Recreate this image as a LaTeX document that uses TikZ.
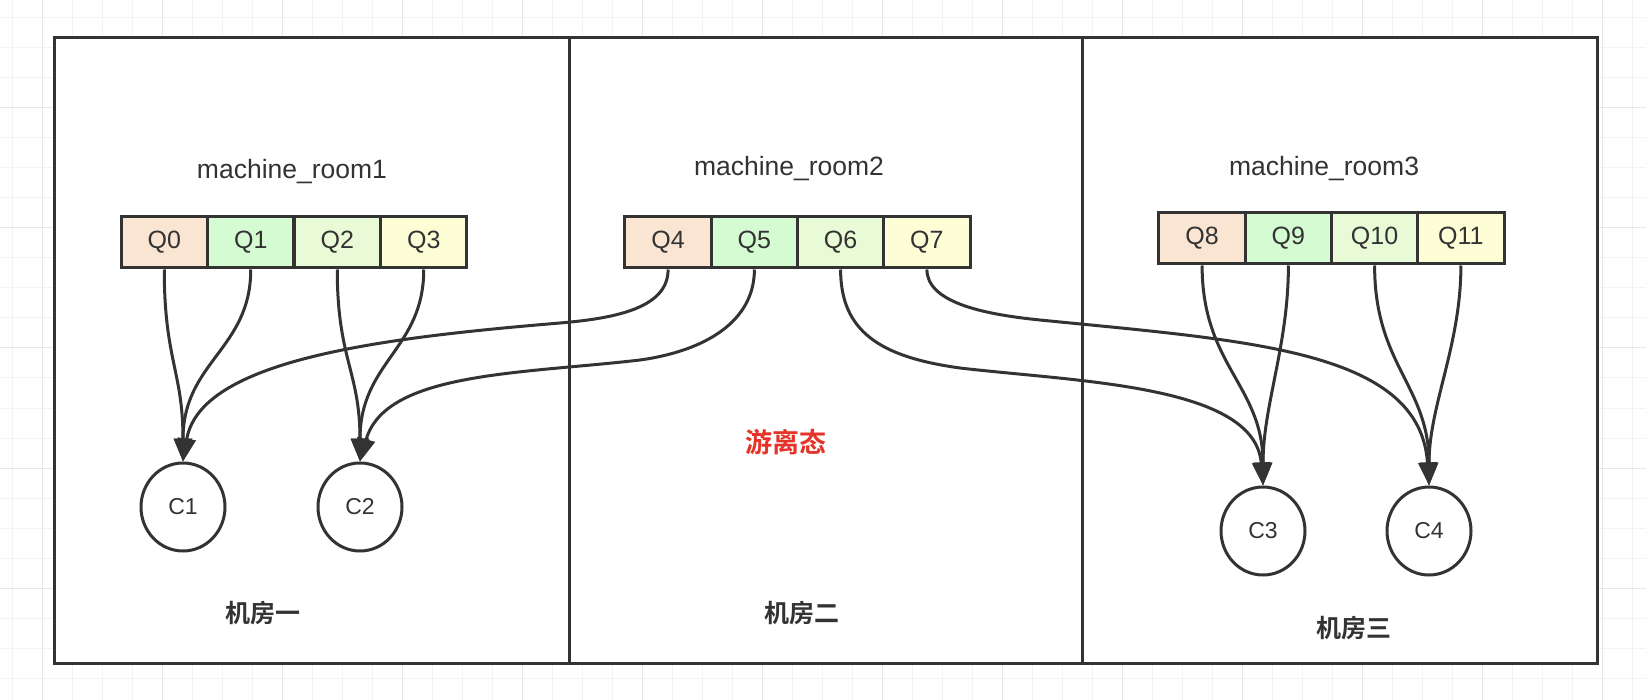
\documentclass[tikz,border=0pt]{standalone}
\usepackage{fontspec}
\setmainfont{Liberation Sans}
\newfontfamily\cjk{Noto Sans CJK SC Bold}
\usetikzlibrary{arrows.meta,shapes.geometric}
\definecolor{ln}{HTML}{333333}
\definecolor{cq0}{HTML}{FAE5D2}
\definecolor{cq1}{HTML}{D5FBD3}
\definecolor{cq2}{HTML}{E9FBD6}
\definecolor{cq3}{HTML}{FEFED6}
\definecolor{rtxt}{HTML}{E53329}
\definecolor{gmin}{HTML}{F3F3F3}
\definecolor{gmaj}{HTML}{E7E7E7}
\tikzset{
  cell/.style={draw=ln, line width=3pt, minimum width=86.3pt, minimum height=51pt, inner sep=0pt, text=ln, font=\fontsize{25}{29}\selectfont},
  cons/.style={ellipse, draw=ln, line width=3pt, fill=white, minimum width=84pt, minimum height=88pt, inner sep=0pt, text=ln, font=\fontsize{23}{27}\selectfont},
  arr/.style={draw=ln, line width=3pt, -{Triangle[length=23pt,width=18pt]}},
  roomlbl/.style={text=ln, font=\fontsize{26.5}{31}\selectfont},
  cnlbl/.style={text=ln, font=\cjk\fontsize{25}{30}\selectfont},
  box/.style={draw=ln, line width=3pt}
}
\begin{document}
\begin{tikzpicture}[x=1pt,y=-1pt]
\useasboundingbox (0,0) rectangle (1646,700);
\fill[white] (0,0) rectangle (1646,700);
% grid
\foreach \x in {12,42,...,1646} \draw[gmin,line width=1pt] (\x,0) -- (\x,700);
\foreach \y in {18,48,...,700} \draw[gmin,line width=1pt] (0,\y) -- (1646,\y);
\foreach \x in {42,162,...,1646} \draw[gmaj,line width=1pt] (\x,0) -- (\x,700);
\foreach \y in {108,228,...,700} \draw[gmaj,line width=1pt] (0,\y) -- (1646,\y);
% rooms
\filldraw[box,fill=white] (54,38) rectangle (1597,663);
\draw[box] (569,38) -- (569,663);
\draw[box] (1082,38) -- (1082,663);
% labels
\node[roomlbl] (m1) at (292,172) {machine\_room1};
\node[roomlbl] (m2) at (789,169) {machine\_room2};
\node[roomlbl] (m3) at (1324,169) {machine\_room3};
\node[cnlbl] (r1) at (263,613) {机房一};
\node[cnlbl] (r2) at (802,613) {机房二};
\node[cnlbl] (r3) at (1354,628) {机房三};
\node[text=rtxt, font=\cjk\fontsize{27}{32}\selectfont] (lost) at (786,442) {游离态};
% queues
\node[cell,fill=cq0] (Q0) at (164.25,242.5) {Q0};
\node[cell,fill=cq1] (Q1) at (250.75,242.5) {Q1};
\node[cell,fill=cq2] (Q2) at (337.25,242.5) {Q2};
\node[cell,fill=cq3] (Q3) at (423.75,242.5) {Q3};
\node[cell,fill=cq0] (Q4) at (668.1,242.5) {Q4};
\node[cell,fill=cq1] (Q5) at (754.4,242.5) {Q5};
\node[cell,fill=cq2] (Q6) at (840.6,242.5) {Q6};
\node[cell,fill=cq3] (Q7) at (926.9,242.5) {Q7};
\node[cell,fill=cq0] (Q8) at (1202.1,238.5) {Q8};
\node[cell,fill=cq1] (Q9) at (1288.4,238.5) {Q9};
\node[cell,fill=cq2] (Q10) at (1374.6,238.5) {Q10};
\node[cell,fill=cq3] (Q11) at (1460.9,238.5) {Q11};
% consumers
\node[cons] (C1) at (183,507) {C1};
\node[cons] (C2) at (360,507) {C2};
\node[cons] (C3) at (1263,531) {C3};
\node[cons] (C4) at (1429,531) {C4};
% connectors
\draw[arr] (Q0.south) .. controls +(0,90) and +(0,-90) .. (C1.north);
\draw[arr] (Q1.south) .. controls +(0,80) and +(0,-100) .. (C1.north);
\draw[arr] (Q2.south) .. controls +(0,90) and +(0,-90) .. (C2.north);
\draw[arr] (Q3.south) .. controls +(0,80) and +(0,-100) .. (C2.north);
\draw[arr] (Q4.south) .. controls +(0,37) and (620,318) .. (560,323)
  .. controls (380,338) and (200,360) .. (C1.north);
\draw[arr] (Q5.south) .. controls +(0,52) and (705,351) .. (640,360)
  .. controls (520,374) and (385,372) .. (C2.north);
\draw[arr] (Q6.south) .. controls +(0,62) and (880,357) .. (960,368)
  .. controls (1080,382) and (1255,385) .. (C3.north);
\draw[arr] (Q7.south) .. controls +(0,32) and (980,314) .. (1040,320)
  .. controls (1250,341) and (1420,350) .. (C4.north);
\draw[arr] (Q8.south) .. controls +(0,100) and +(0,-100) .. (C3.north);
\draw[arr] (Q9.south) .. controls +(0,80) and +(0,-80) .. (C3.north);
\draw[arr] (Q10.south) .. controls +(0,100) and +(0,-100) .. (C4.north);
\draw[arr] (Q11.south) .. controls +(0,80) and +(0,-80) .. (C4.north);
\end{tikzpicture}
\end{document}
